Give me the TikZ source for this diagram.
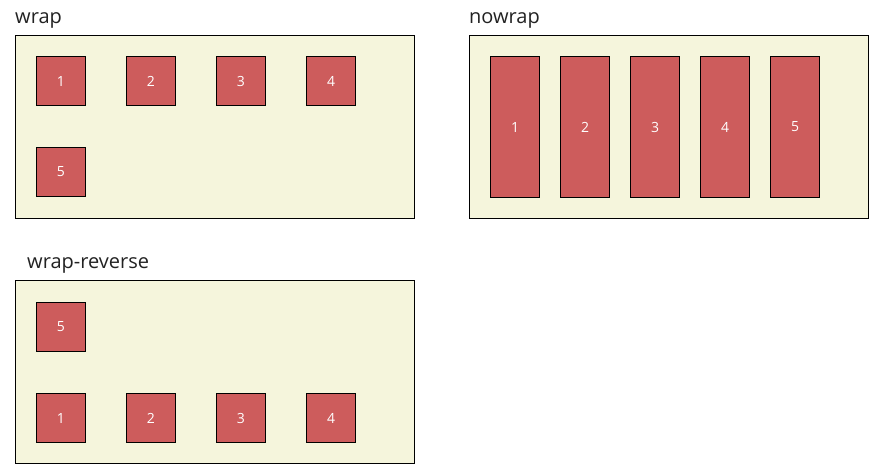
\documentclass[tikz,border=0pt]{standalone}
\usepackage{fontspec}
\setmainfont{Open Sans}
\definecolor{boxred}{HTML}{CD5C5C}
\definecolor{beige}{HTML}{F5F5DC}
\definecolor{titlegray}{HTML}{222222}
\begin{document}
\begin{tikzpicture}[x=1pt,y=-1pt,
  container/.style={draw=black,fill=beige,line width=0.9pt},
  item/.style={draw=black,fill=boxred,line width=0.9pt},
  num/.style={text=white,font=\fontsize{14}{16}\selectfont,inner sep=0pt},
  title/.style={text=titlegray,font=\fontsize{20}{24}\selectfont,anchor=base west,inner sep=0pt}]
\useasboundingbox (0,0) rectangle (884,475);
% titles
\node[title] (t1) at (15,23) {wrap};
\node[title] (t2) at (469,23) {nowrap};
\node[title] (t3) at (27,268) {wrap-reverse};
% containers
\draw[container] (15.5,35.5) rectangle (414.5,218.5);
\draw[container] (469.5,35.5) rectangle (868.5,218.5);
\draw[container] (15.5,280.5) rectangle (414.5,463.5);
% wrap
\foreach \i/\x/\y in {1/36/56,2/126/56,3/216/56,4/306/56,5/36/147}{
  \draw[item] (\x+0.5,\y+0.5) rectangle (\x+49.5,\y+49.5);
  \node[num] (w\i) at (\x+25,\y+25) {\i};
}
% nowrap
\foreach \i/\x in {1/490,2/560,3/630,4/700,5/770}{
  \draw[item] (\x+0.5,56.5) rectangle (\x+49.5,197.5);
  \node[num] (n\i) at (\x+25,127) {\i};
}
% wrap-reverse
\foreach \i/\x/\y in {5/36/302,1/36/393,2/126/393,3/216/393,4/306/393}{
  \draw[item] (\x+0.5,\y+0.5) rectangle (\x+49.5,\y+49.5);
  \node[num] (r\i) at (\x+25,\y+25) {\i};
}
\end{tikzpicture}
\end{document}
